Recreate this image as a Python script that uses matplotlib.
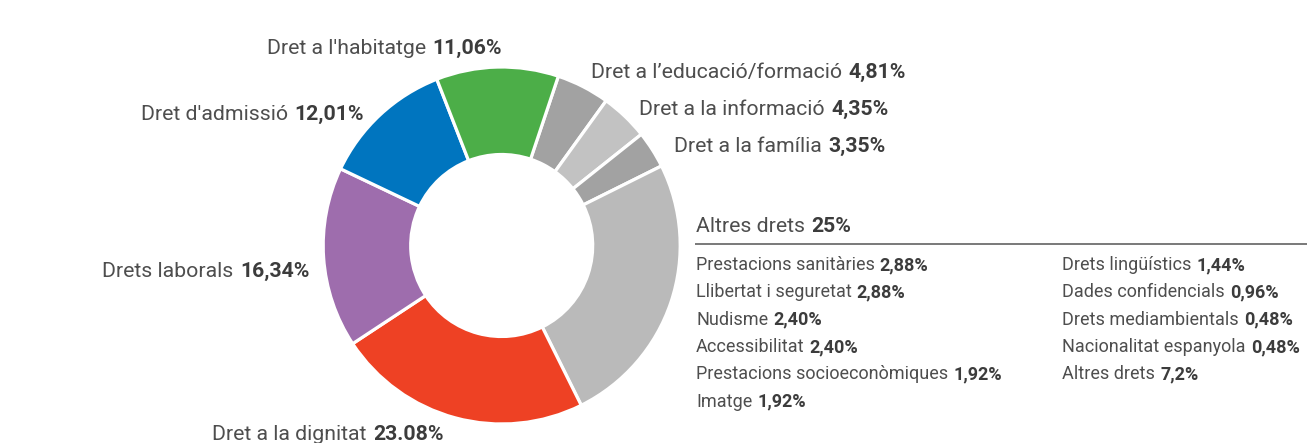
import matplotlib
matplotlib.use("Agg")
import matplotlib.pyplot as plt
from matplotlib import font_manager, ft2font

# ---- data ----
main_labels = ["Dret a l\u2019educació/formació", "Dret a la informació", "Dret a la família",
               "Altres drets", "Dret a la dignitat", "Drets laborals",
               "Dret d'admissió", "Dret a l'habitatge"]
main_values = [4.81, 4.35, 3.35, 25.0, 23.08, 16.34, 12.01, 11.06]
main_value_text = ["4,81%", "4,35%", "3,35%", "25%", "23.08%", "16,34%", "12,01%", "11,06%"]
main_colors = ["#a2a2a2", "#c2c2c2", "#a2a2a2", "#bababa", "#ee4124", "#9e6dad", "#0075bf", "#4cae48"]

other_col1_labels = ["Prestacions sanitàries", "Llibertat i seguretat", "Nudisme",
                     "Accessibilitat", "Prestacions socioeconòmiques", "Imatge"]
other_col1_values = ["2,88%", "2,88%", "2,40%", "2,40%", "1,92%", "1,92%"]
other_col2_labels = ["Drets lingüístics", "Dades confidencials", "Drets mediambientals",
                     "Nacionalitat espanyola", "Altres drets"]
other_col2_values = ["1,44%", "0,96%", "0,48%", "0,48%", "7,2%"]

# ---- layout (pixels, y from top) ----
W, H = 1307, 443
DPI = 100
FONT = "Roboto"
TXT = "#4e4e4e"
BOLD = "#3c3c3c"

_font_path = font_manager.findfont(font_manager.FontProperties(family=FONT))
_ft = ft2font.FT2Font(_font_path)


def advance(s, size):
    _ft.set_size(size, DPI)
    total = 0.0
    for c in s:
        g = _ft.load_char(ord(c), flags=ft2font.LoadFlags.NO_HINTING)
        total += g.linearHoriAdvance / 65536.0
    return total


fig = plt.figure(figsize=(W / DPI, H / DPI), dpi=DPI)
ax = fig.add_axes([0, 0, 1, 1])

cx, cy = 501.7, 245.5
r_out, r_in = 178.5, 91.0
ax.pie(main_values, colors=main_colors, startangle=71.5, counterclock=False,
       radius=r_out, center=(cx, H - cy),
       wedgeprops=dict(width=r_out - r_in, edgecolor="white", linewidth=2.3))
ax.set_xlim(0, W)
ax.set_ylim(0, H)
ax.set_aspect("equal")
ax.axis("off")


def label(x, y_top, normal, bold, size):
    ax.text(x, H - y_top, normal, fontsize=size, color=TXT, family=FONT,
            ha="left", va="baseline")
    xb = x + advance(normal + " ", size) + 1.2
    ax.text(xb, H - y_top, bold, fontsize=size, color=BOLD,
            family=FONT, fontweight="bold", ha="left", va="baseline")


MAIN = 15.35
SUB = 13.0
# positions of main labels (left x, baseline y)
main_pos = {
    0: (590.7, 78.3),
    1: (639.3, 115.0),
    2: (674.0, 151.7),
    3: (696.0, 231.7),
    4: (211.7, 440.0),
    5: (102.3, 277.3),
    6: (140.7, 120.0),
    7: (266.7, 54.0),
}
for i, (x, y) in main_pos.items():
    label(x, y, main_labels[i], main_value_text[i], MAIN)

# separator line
ax.plot([695, W], [H - 244, H - 244], color="#555555", lw=1.1, solid_capstyle="butt")

row0, step = 270.0, 27.33
for k, (n, v) in enumerate(zip(other_col1_labels, other_col1_values)):
    label(696.0, row0 + k * step, n, v, SUB)
for k, (n, v) in enumerate(zip(other_col2_labels, other_col2_values)):
    label(1062.3, row0 + k * step, n, v, SUB)

fig.savefig("out.png", dpi=DPI)
